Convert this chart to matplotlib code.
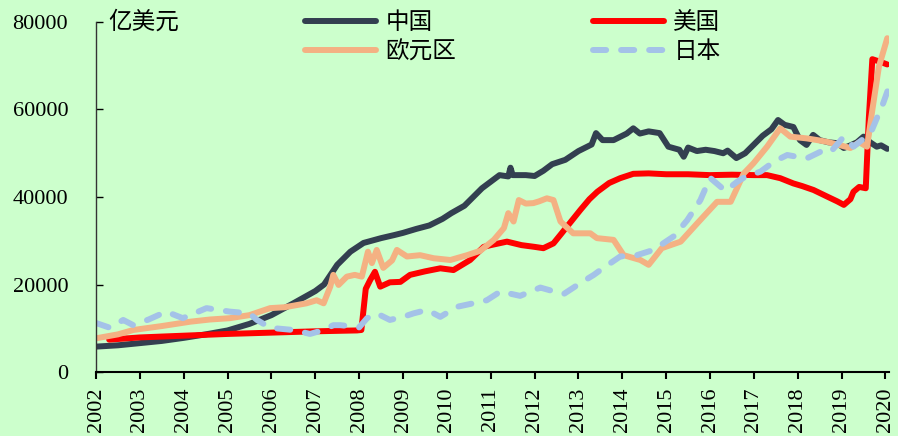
import matplotlib
matplotlib.use("Agg")
import matplotlib.pyplot as plt
import numpy as np

plt.rcParams['font.family'] = ['Liberation Serif', 'Noto Sans CJK SC', 'DejaVu Sans']

# 外汇储备 (亿美元), decimal year / value pairs
china_t = [2002.0, 2002.5, 2003.0, 2003.5, 2004.0, 2004.5, 2005.0, 2005.5, 2006.0, 2006.5,
           2007.0, 2007.2, 2007.5, 2007.8, 2008.1, 2008.5, 2008.8, 2009.0, 2009.3, 2009.6,
           2009.9, 2010.1, 2010.4, 2010.6, 2010.8, 2011.0, 2011.2, 2011.4, 2011.45, 2011.5,
           2011.8, 2012.0, 2012.2, 2012.4, 2012.7, 2013.0, 2013.3, 2013.4, 2013.55, 2013.8,
           2014.1, 2014.25, 2014.4, 2014.6, 2014.85, 2015.05, 2015.3, 2015.4, 2015.5, 2015.7,
           2015.9, 2016.1, 2016.3, 2016.4, 2016.6, 2016.8, 2017.0, 2017.2, 2017.4, 2017.55,
           2017.7, 2017.9, 2018.05, 2018.2, 2018.35, 2018.5, 2018.7, 2018.9, 2019.05, 2019.2,
           2019.35, 2019.5, 2019.65, 2019.8, 2019.9, 2020.04]
china_v = [5800, 6100, 6600, 7100, 7800, 8600, 9500, 11000, 13000, 15700,
           18500, 20000, 24500, 27500, 29500, 30600, 31300, 31800, 32700, 33500,
           35000, 36300, 38000, 40000, 42000, 43500, 45000, 44700, 46700, 45000,
           45000, 44800, 46000, 47500, 48500, 50500, 52000, 54600, 53000, 53000,
           54500, 55700, 54500, 55000, 54600, 51500, 50800, 49200, 51300, 50500,
           50800, 50500, 50000, 50600, 48900, 50000, 52000, 54000, 55500, 57600,
           56500, 56000, 53000, 51900, 54200, 53000, 52500, 52300, 51200, 51800,
           52500, 53800, 52500, 51500, 51800, 51000]

us_t = [2002.3, 2003.0, 2004.0, 2005.0, 2006.0, 2007.0, 2007.95, 2008.05, 2008.15, 2008.25,
        2008.36, 2008.48, 2008.7, 2008.94, 2009.16, 2009.5, 2009.85, 2010.15, 2010.53, 2010.84,
        2011.0, 2011.37, 2011.7, 2012.0, 2012.2, 2012.43, 2012.6, 2012.8, 2013.04, 2013.25,
        2013.43, 2013.7, 2013.95, 2014.25, 2014.6, 2015.0, 2015.5, 2016.0, 2016.5, 2017.0,
        2017.3, 2017.6, 2017.9, 2018.1, 2018.36, 2018.67, 2018.9, 2019.05, 2019.2, 2019.27,
        2019.4, 2019.55, 2019.62, 2019.7, 2019.85, 2020.04]
us_v = [7400, 7900, 8300, 8700, 9000, 9300, 9500, 9600, 19000, 21000,
        22900, 19500, 20500, 20600, 22200, 23000, 23700, 23300, 25600, 28600,
        29000, 29800, 29000, 28600, 28300, 29400, 31500, 34000, 37000, 39500,
        41200, 43200, 44300, 45300, 45400, 45200, 45200, 45000, 45100, 45000,
        45000, 44300, 43100, 42500, 41600, 40100, 39000, 38200, 39500, 41200,
        42300, 42000, 58000, 71500, 71000, 70300]

euro_t = [2002.0, 2002.5, 2002.85, 2003.5, 2004.15, 2004.6, 2005.05, 2005.5, 2005.97, 2006.3,
          2006.58, 2006.8, 2007.03, 2007.19, 2007.34, 2007.41, 2007.53, 2007.72, 2007.9, 2008.06,
          2008.2, 2008.29, 2008.4, 2008.55, 2008.75, 2008.86, 2009.09, 2009.39, 2009.7, 2010.08,
          2010.46, 2010.76, 2011.07, 2011.3, 2011.4, 2011.52, 2011.64, 2011.8, 2011.97, 2012.1,
          2012.28, 2012.43, 2012.59, 2012.88, 2013.27, 2013.42, 2013.8, 2014.03, 2014.41, 2014.6,
          2014.9, 2015.33, 2015.71, 2016.16, 2016.47, 2016.77, 2016.99, 2017.3, 2017.6, 2017.83,
          2018.2, 2018.45, 2018.67, 2018.9, 2019.2, 2019.4, 2019.58, 2019.7, 2019.85, 2020.04]
euro_v = [7700, 8600, 9600, 10500, 11500, 12000, 12300, 13000, 14600, 14800,
          15300, 15700, 16400, 15700, 19500, 22200, 19900, 21800, 22200, 21800,
          27500, 24900, 27900, 23800, 25500, 27900, 26400, 26700, 26000, 25600,
          26700, 27700, 30200, 32900, 36300, 34400, 39300, 38500, 38600, 39000,
          39700, 39300, 34400, 31700, 31700, 30600, 30200, 26700, 25600, 24500,
          28300, 29800, 34000, 38900, 38900, 45400, 47700, 51500, 55700, 53800,
          53400, 53000, 52600, 52000, 51200, 52500, 51500, 59900, 69800, 76300]

japan_t = [2002.0, 2002.32, 2002.62, 2002.85, 2003.2, 2003.6, 2003.98, 2004.52, 2005.05, 2005.5,
           2005.67, 2005.97, 2006.5, 2006.88, 2007.19, 2007.41, 2007.57, 2007.86, 2008.0, 2008.18,
           2008.4, 2008.7, 2009.0, 2009.24, 2009.55, 2009.85, 2010.23, 2010.6, 2010.91, 2011.22,
           2011.67, 2012.13, 2012.66, 2013.04, 2013.35, 2013.5, 2013.95, 2014.33, 2014.71, 2015.17,
           2015.48, 2015.78, 2016.0, 2016.35, 2016.62, 2016.8, 2017.15, 2017.46, 2017.76, 2018.2,
           2018.59, 2018.75, 2019.05, 2019.27, 2019.66, 2019.95, 2020.07]
japan_v = [11200, 10100, 11900, 10700, 12000, 13800, 12300, 14600, 13800, 13400,
           11900, 10100, 9600, 8700, 9600, 10700, 10700, 10400, 10200, 12300,
           13400, 11900, 12600, 13400, 14200, 12600, 14900, 15700, 16400, 18400,
           17400, 19300, 17800, 20300, 22200, 23300, 26400, 26700, 27900, 31000,
           34700, 39300, 44400, 41400, 43500, 44600, 45800, 48100, 49600, 48800,
           50700, 50300, 53800, 51500, 54600, 61500, 64900]

years = list(range(2002, 2021))
yticks = [0, 20000, 40000, 60000, 80000]

fig = plt.figure(figsize=(8.98, 4.36), dpi=100)
fig.patch.set_facecolor('#CCFFCC')
ax = fig.add_axes([96 / 898, 1 - 372 / 436, 793 / 898, 350 / 436])
ax.set_facecolor('#CCFFCC')

lw = 4.3
l_cn, = ax.plot(china_t, china_v, color='#333F50', lw=lw, solid_capstyle='round', label='中国')
l_us, = ax.plot(us_t, us_v, color='#FF0000', lw=lw, solid_capstyle='round', label='美国')
l_eu, = ax.plot(euro_t, euro_v, color='#F4B183', lw=lw, solid_capstyle='round', label='欧元区')
l_jp, = ax.plot(japan_t, japan_v, color='#A4C2E8', lw=lw, dashes=(2.2, 2.5),
                dash_capstyle='round', label='日本')

ax.set_xlim(2002, 2020.08)
ax.set_ylim(0, 80000)
ax.set_xticks(years)
ax.set_xticklabels([str(y) for y in years], rotation=90, fontsize=16)
ax.set_yticks(yticks)
ax.set_yticklabels([str(v) for v in yticks], fontsize=16)

for s in ['top', 'right']:
    ax.spines[s].set_visible(False)
ax.spines['left'].set_color('#333333')
ax.spines['left'].set_linewidth(1.0)
ax.spines['bottom'].set_color('black')
ax.spines['bottom'].set_linewidth(1.5)
ax.tick_params(axis='y', direction='in', length=5, pad=20, width=1)
ax.tick_params(axis='x', direction='out', length=5, pad=6, width=1.5)

ax.text(0.015, 1.0, '亿美元', transform=ax.transAxes, fontsize=17,
        va='center', ha='left')

leg = fig.legend([l_cn, l_eu, l_us, l_jp], ['中国', '欧元区', '美国', '日本'],
                 ncol=2, frameon=False, fontsize=17, loc='upper left',
                 bbox_to_anchor=(305 / 898, 1 - 12 / 436), borderaxespad=0, borderpad=0,
                 handlelength=3.0, handletextpad=0.4, columnspacing=5.8,
                 labelspacing=0.3)

fig.savefig('out.png', dpi=100, facecolor=fig.get_facecolor())
